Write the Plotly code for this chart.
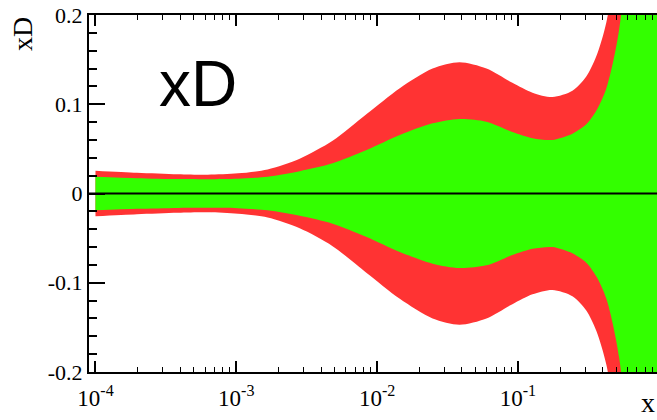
import plotly.graph_objects as go

# x positions (Bjorken x) of the band samples
x_vals = [1.0e-4, 1.97e-4, 3.85e-4, 6.28e-4, 1.03e-3, 1.67e-3, 2.82e-3, 4.83e-3,
          8.43e-3, 1.45e-2, 2.48e-2, 3.85e-2, 5.98e-2, 9.14e-2, 0.127, 0.176,
          0.244, 0.306, 0.361, 0.425, 0.525, 0.728, 1.0]
# inner (green) band half-width
green_half = [0.0188, 0.0172, 0.0162, 0.0161, 0.0166, 0.0188, 0.0250, 0.0338,
              0.0487, 0.0655, 0.0786, 0.0835, 0.0805, 0.0690, 0.0620, 0.0600,
              0.0670, 0.0775, 0.093, 0.118, 0.185, 0.45, 0.9]
# outer (red) band half-width
red_half = [0.0255, 0.0232, 0.0215, 0.0210, 0.0226, 0.0270, 0.0390, 0.0590,
            0.0890, 0.1180, 0.1400, 0.1470, 0.1400, 0.1240, 0.1130, 0.1080,
            0.1150, 0.1310, 0.1540, 0.1920, 0.29, 0.6, 1.2]

x_ticks = [1e-4, 1e-3, 1e-2, 1e-1]
x_ticktext = ["10<sup>-4</sup>", "10<sup>-3</sup>", "10<sup>-2</sup>", "10<sup>-1</sup>"]
x_minor = [m * d for d in [1e-4, 1e-3, 1e-2, 1e-1] for m in range(2, 10)]
y_ticks = [-0.2, -0.1, 0, 0.1, 0.2]
y_ticktext = ["-0.2", "-0.1", "0", "0.1", "0.2"]

RED = "rgb(255,51,51)"
GREEN = "rgb(51,255,0)"


def band(half, color):
    xs = x_vals + x_vals[::-1]
    ys = list(half) + [-v for v in half[::-1]]
    return go.Scatter(x=xs, y=ys, fill="toself", fillcolor=color, mode="lines",
                      line=dict(width=0, color=color, shape="spline", smoothing=0.8),
                      hoverinfo="skip", showlegend=False)


fig = go.Figure()
fig.add_trace(band(red_half, RED))
fig.add_trace(band(green_half, GREEN))

serif = "Liberation Serif"
fig.update_layout(
    width=657, height=420,
    margin=dict(l=89, r=0, t=15, b=48),
    paper_bgcolor="white", plot_bgcolor="white",
    showlegend=False,
    font=dict(family=serif, size=22, color="black"),
)
fig.update_xaxes(
    type="log", range=[-4.046, -0.012],
    tickmode="array", tickvals=x_ticks, ticktext=x_ticktext,
    ticks="inside", ticklen=11, tickwidth=1.5, tickcolor="black",
    minor=dict(tickmode="array", tickvals=x_minor, ticks="inside", ticklen=5,
               tickwidth=1.2, tickcolor="black", showgrid=False),
    showline=True, linewidth=2, linecolor="black", mirror="allticks",
    showgrid=False, zeroline=False,
    tickfont=dict(family=serif, size=23),
    ticklabelstandoff=4,
)
fig.update_yaxes(
    range=[-0.2, 0.2],
    tickmode="array", tickvals=y_ticks, ticktext=y_ticktext,
    ticks="inside", ticklen=16, tickwidth=2, tickcolor="black",
    minor=dict(dtick=0.02, tick0=0, ticks="inside", ticklen=8, tickwidth=1.5,
               tickcolor="black", showgrid=False),
    showline=True, linewidth=2, linecolor="black", mirror=False,
    showgrid=False, zeroline=False,
    tickfont=dict(family=serif, size=22),
)
fig.add_shape(type="line", xref="paper", yref="y", x0=0, x1=1, y0=0, y1=0,
              line=dict(color="black", width=2), layer="above")

fig.add_annotation(text="xD", xref="paper", yref="paper", x=-0.118, y=1.0,
                   xanchor="center", yanchor="top", textangle=-90, showarrow=False,
                   font=dict(family=serif, size=28, color="black"))
fig.add_annotation(text="x", xref="paper", yref="paper", x=1.0, y=-0.134,
                   xanchor="right", yanchor="bottom", showarrow=False,
                   font=dict(family=serif, size=28, color="black"))
fig.add_annotation(text="xD", xref="paper", yref="paper", x=0.12, y=0.913,
                   xanchor="left", yanchor="top", showarrow=False,
                   font=dict(family="Liberation Sans", size=64, color="black"))

fig.write_html("out.html")
